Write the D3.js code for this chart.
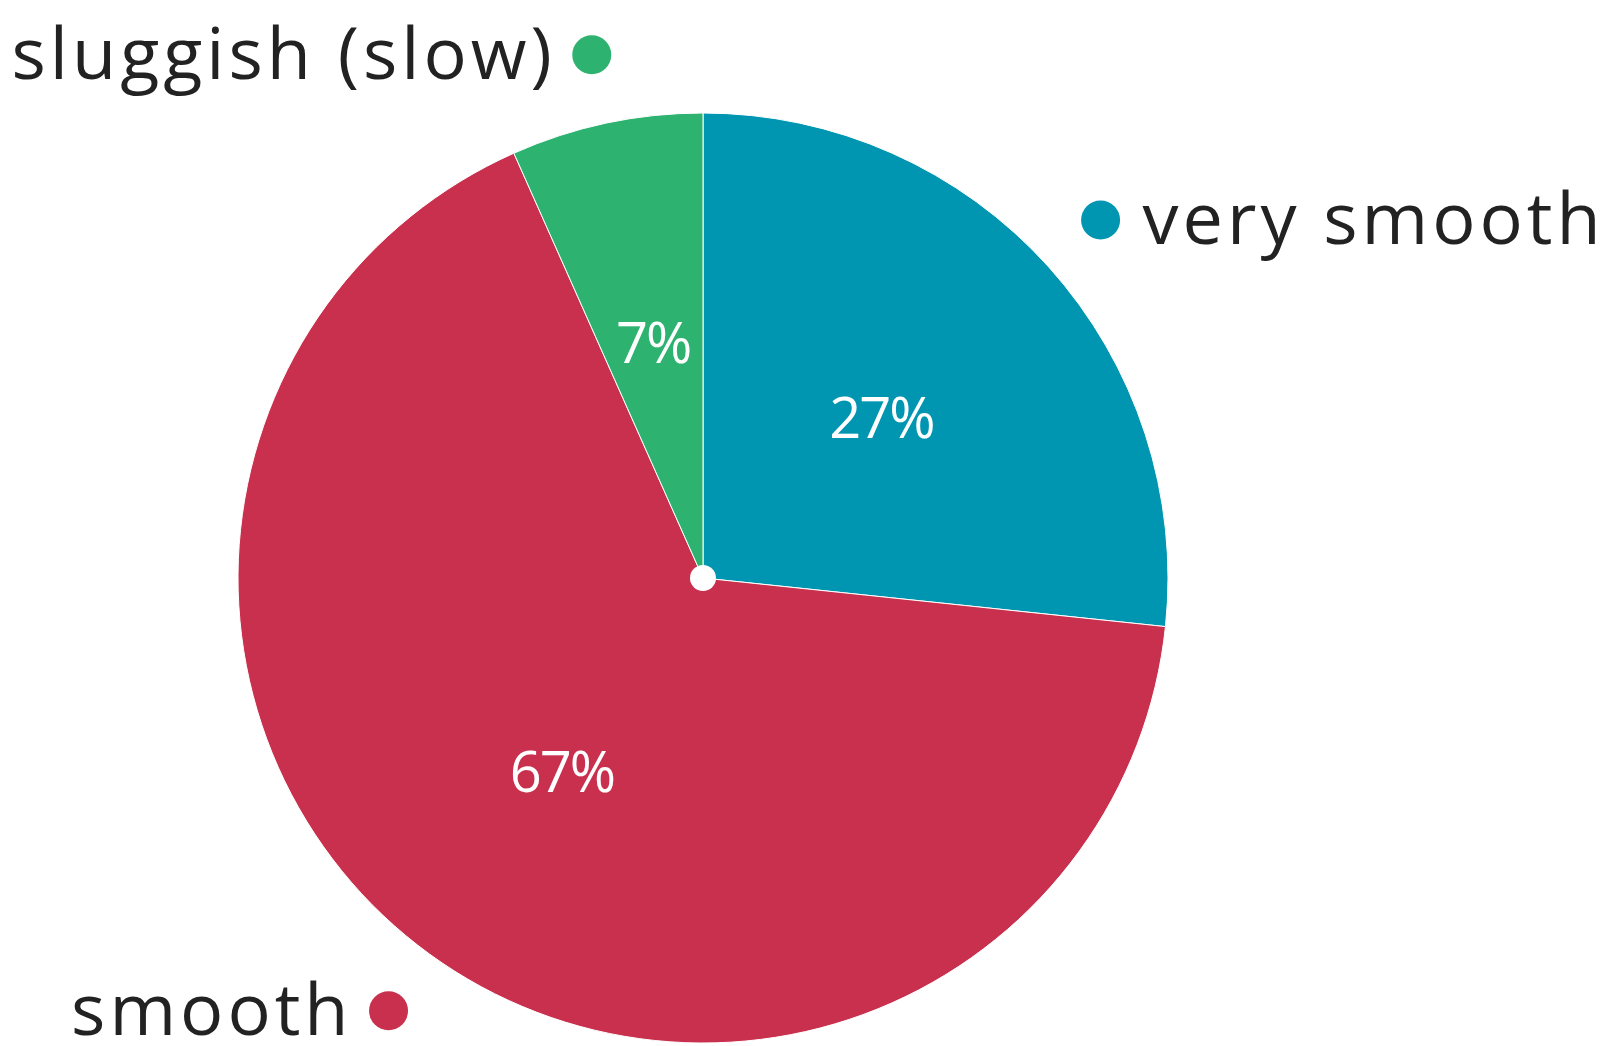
<!DOCTYPE html>
<meta charset="utf-8">
<script src="https://d3js.org/d3.v7.min.js"></script>
<style>
  body { margin: 0; background: #fff; }
</style>
<div id="chart"></div>
<script>
    // categories, values (counts) and printed labels
    var categories = ["very smooth", "smooth", "sluggish (slow)"];
    var values = [4, 10, 1];
    var pctLabels = ["27%", "67%", "7%"];
    var colors = ["#0095b0", "#c9304d", "#2db36f"];

    var width = 1612, height = 1046;
    var cx = 703, cy = 578, radius = 465;

    var svg = d3.select("#chart").append("svg")
        .attr("width", width)
        .attr("height", height)
        .style("font-family", "'Open Sans', sans-serif");

    var g = svg.append("g")
        .attr("transform", "translate(" + cx + "," + cy + ")");

    var data = categories.map(function(c, i) { return {name: c, value: values[i], pct: pctLabels[i], color: colors[i]}; });

    var pie = d3.pie().sort(null).value(function(d) { return d.value; });
    var arcs = pie(data);

    var arc = d3.arc().innerRadius(0).outerRadius(radius);
    var labelArc = d3.arc().innerRadius(240).outerRadius(240);
    var outerArc = d3.arc().innerRadius(535).outerRadius(535);

    // slices
    g.selectAll("path.slice")
        .data(arcs).enter()
        .append("path")
        .attr("class", "slice")
        .attr("d", arc)
        .attr("fill", function(d) { return d.data.color; })
        .attr("stroke", "#fff")
        .attr("stroke-width", 1);

    // centre dot
    g.append("circle").attr("r", 13).attr("fill", "#fff");

    // percent labels
    g.selectAll("text.pct")
        .data(arcs).enter()
        .append("text")
        .attr("class", "pct")
        .attr("transform", function(d) { return "translate(" + labelArc.centroid(d) + ")"; })
        .attr("text-anchor", "middle")
        .attr("dy", "0.36em")
        .attr("fill", "#fff")
        .style("font-size", "56px")
        .style("letter-spacing", "-2px")
        .text(function(d) { return d.data.pct; });

    // outside labels with coloured dots
    var outer = g.selectAll("g.outer")
        .data(arcs).enter()
        .append("g")
        .attr("class", "outer")
        .attr("transform", function(d) { return "translate(" + outerArc.centroid(d) + ")"; });

    outer.append("circle")
        .attr("r", 19.5)
        .attr("fill", function(d) { return d.data.color; });

    outer.append("text")
        .attr("x", function(d) { return outerArc.centroid(d)[0] > 0 ? 42 : -36; })
        .attr("dy", "0.34em")
        .attr("text-anchor", function(d) { return outerArc.centroid(d)[0] > 0 ? "start" : "end"; })
        .attr("fill", "#222")
        .style("font-size", "72px")
        .style("letter-spacing", "4px")
        .text(function(d) { return d.data.name; });
</script>
